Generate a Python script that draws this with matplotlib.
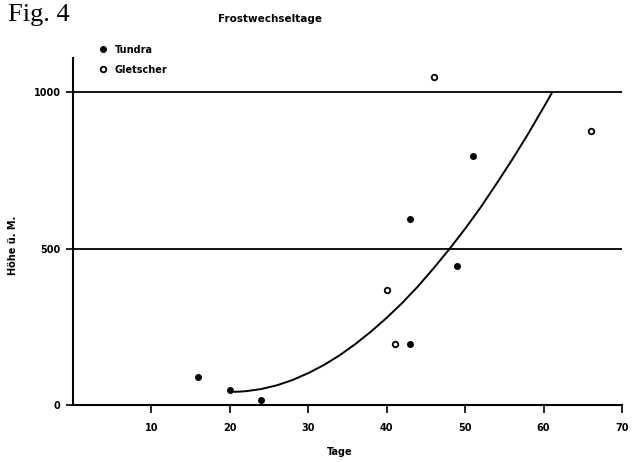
import numpy as np
import matplotlib
matplotlib.use("Agg")
import matplotlib.pyplot as plt

# Frostwechseltage (Tage) gegen Höhe ü. M.
tundra_tage = [16, 20, 24, 43, 43, 49, 51]
tundra_hoehe = [88, 47, 16, 196, 595, 444, 795]
gletscher_tage = [40, 41, 46, 66]
gletscher_hoehe = [367, 194, 1049, 875]

# Ausgleichskurve
kurve_tage = [20.6, 22, 24, 26, 28, 30, 32, 34, 36, 38, 40, 42, 44, 46,
              48, 50, 52, 54, 56, 58, 60, 61.1]
kurve_hoehe = [42, 44, 51, 63, 80, 102, 128, 159, 195, 235, 279, 327, 380,
               438, 499, 564, 633, 708, 785, 866, 952, 1000]

hlinien = [500, 1000]
x_ticks = [10, 20, 30, 40, 50, 60, 70]
y_ticks = [0, 500, 1000]

plt.rcParams["font.family"] = "DejaVu Sans"

fig = plt.figure(figsize=(6.32, 4.62), dpi=100)
W, H = 632, 462
ax = fig.add_axes([73 / W, 1 - 405 / H, (622 - 73) / W, (405 - 58) / H])

ax.set_xlim(0, 70)
ax.set_ylim(0, 1110)

for h in hlinien:
    ax.plot([0, 70], [h, h], color="black", lw=1.3, zorder=1)

ax.plot(kurve_tage, kurve_hoehe, color="black", lw=1.4, zorder=2)

ax.plot(tundra_tage, tundra_hoehe, "o", color="black", ms=4, zorder=3,
        label="Tundra")
ax.plot(gletscher_tage, gletscher_hoehe, "o", mfc="white", mec="black",
        mew=1.3, ms=4, zorder=3, label="Gletscher")

for s in ["top", "right"]:
    ax.spines[s].set_visible(False)
for s in ["left", "bottom"]:
    ax.spines[s].set_linewidth(1.5)

ax.set_xticks(x_ticks)
ax.set_yticks(y_ticks)
ax.set_xticklabels([str(t) for t in x_ticks], fontsize=7, fontweight="bold")
ax.set_yticklabels([str(t) for t in y_ticks], fontsize=7, fontweight="bold")
ax.tick_params(axis="x", direction="out", length=6, width=1.2, pad=7)
ax.tick_params(axis="y", direction="out", length=5, width=1.2, pad=4)

leg = ax.legend(loc="upper left", bbox_to_anchor=(96 / W, 1 - 40 / H),
                bbox_transform=fig.transFigure, frameon=False,
                handlelength=0.5, handletextpad=0.9, labelspacing=1.0,
                borderpad=0, prop={"size": 7, "weight": "bold"})

fig.text(8 / W, 1 - 15 / H, "Fig. 4", family="Liberation Serif", fontsize=19,
         va="center", ha="left")
fig.text(218 / W, 1 - 19 / H, "Frostwechseltage", fontsize=7.5,
         fontweight="bold", va="center", ha="left")
fig.text(13 / W, 1 - 245 / H, "Höhe ü. M.", fontsize=7, fontweight="bold",
         rotation=90, va="center", ha="center")
fig.text(340 / W, 1 - 452 / H, "Tage", fontsize=7, fontweight="bold",
         va="center", ha="center")

fig.savefig("out.png", dpi=100)
